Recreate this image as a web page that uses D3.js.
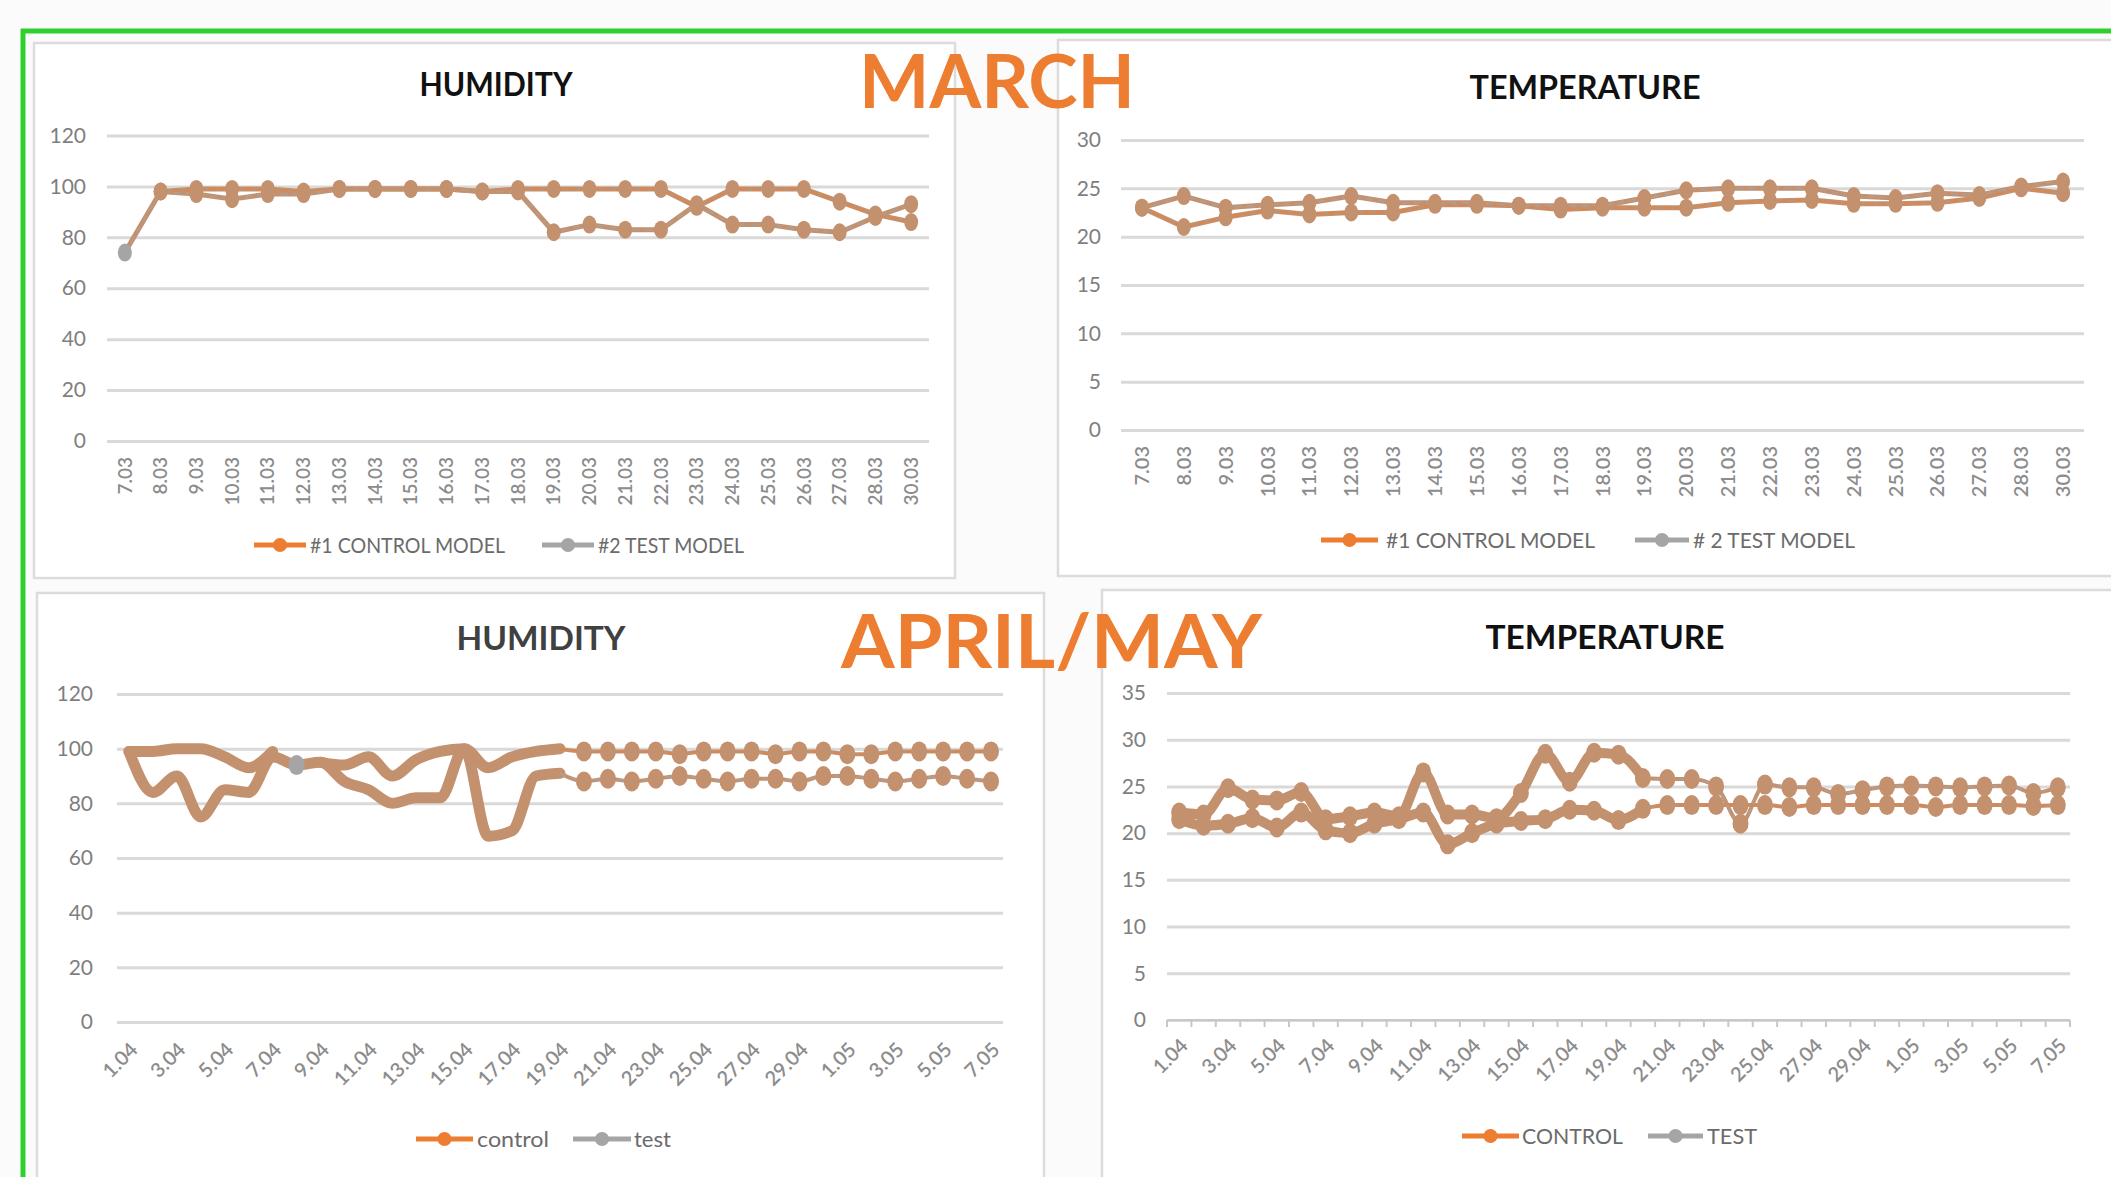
<!DOCTYPE html>
<html>
<head>
<meta charset="utf-8">
<script src="https://cdn.jsdelivr.net/npm/d3@7"></script>
<style>
  body { margin: 0; background: #fbfbfb; }
  svg { display: block; font-family: Lato, "Open Sans", sans-serif; }
</style>
</head>
<body>
<svg width="2111" height="1177"></svg>
<script>
// March data
var marchDates = ["7.03", "8.03", "9.03", "10.03", "11.03", "12.03", "13.03", "14.03", "15.03", "16.03", "17.03", "18.03",
  "19.03", "20.03", "21.03", "22.03", "23.03", "24.03", "25.03", "26.03", "27.03", "28.03", "30.03"];
var marchHumControl = [null, 98, 99, 99, 99, 98, 99, 99, 99, 99, 98, 99, 99, 99, 99, 99, 92, 99, 99, 99, 94, 89, 86];
var marchHumTest = [74, 98, 97, 95, 97, 97, 99, 99, 99, 99, 98, 98, 82, 85, 83, 83, 93, 85, 85, 83, 82, 88, 93];
var marchTempControl = [23, 21, 22, 22.7, 22.3, 22.5, 22.5, 23.3, 23.3, 23.2, 22.8, 23, 23, 23, 23.5, 23.7, 23.8, 23.4, 23.4, 23.5, 24, 25, 24.5];
var marchTempTest = [23, 24.2, 23, 23.3, 23.5, 24.2, 23.5, 23.5, 23.5, 23.2, 23.2, 23.2, 24, 24.8, 25, 25, 25, 24.2, 24, 24.5, 24.3, 25.2, 25.7];

// April / May data
var aprilDates = ["1.04", "2.04", "3.04", "4.04", "5.04", "6.04", "7.04", "8.04", "9.04", "10.04", "11.04", "12.04",
  "13.04", "14.04", "15.04", "16.04", "17.04", "18.04", "19.04", "20.04", "21.04", "22.04", "23.04", "24.04",
  "25.04", "26.04", "27.04", "28.04", "29.04", "30.04", "1.05", "2.05", "3.05", "4.05", "5.05", "6.05", "7.05"];
var aprilHumControl = [99, 99, 100, 100, 97, 93, 99, null, 95, 94, 97, 90, 96, 99, 100, 93, 97, 99, 100,
  99, 99, 99, 99, 98, 99, 99, 99, 98, 99, 99, 98, 98, 99, 99, 99, 99, 99];
var aprilHumTest = [99, 84, 90, 75, 85, 84, 97, 94, 95, 88, 85, 80, 82, 82, 100, 68, 70, 90, 91,
  88, 89, 88, 89, 90, 89, 88, 89, 89, 88, 90, 90, 89, 88, 89, 90, 89, 88];
var aprilTempControl = [21.5, 20.8, 21, 21.6, 20.6, 22.2, 20.3, 20, 21, 21.5, 22.2, 18.8, 20, 21, 21.3, 21.5, 22.5, 22.4, 21.4,
  22.6, 23, 23, 23, 23, 23, 22.8, 23, 23, 23, 23, 23, 22.8, 23, 23, 23, 22.9, 23];
var aprilTempTest = [22.2, 22, 24.8, 23.6, 23.5, 24.4, 21.5, 21.8, 22.2, 21.8, 26.5, 22, 22, 21.6, 24.3, 28.5, 25.5, 28.6, 28.4,
  25.9, 25.8, 25.8, 25, 21, 25.2, 24.9, 24.9, 24.2, 24.6, 25, 25.1, 25, 24.9, 25, 25.1, 24.3, 24.9];

var humTicks = [0, 20, 40, 60, 80, 100, 120];
var marchTempTicks = [0, 5, 10, 15, 20, 25, 30];
var aprilTempTicks = [0, 5, 10, 15, 20, 25, 30, 35];

var orange = "#ed7d31", grey = "#a5a5a5", tan = "#c4916f", gridColor = "#d9d9d9", labelColor = "#7f7f7f";

var svg = d3.select("svg");

// panels
var panels = [
  {x: 34, y: 43, w: 921, h: 535},
  {x: 1058, y: 40, w: 1070, h: 536},
  {x: 37, y: 593, w: 1007, h: 600},
  {x: 1102, y: 590, w: 1020, h: 600}
];
svg.selectAll("rect.panel").data(panels).join("rect")
    .attr("class", "panel")
    .attr("x", function(d) { return d.x; })
    .attr("y", function(d) { return d.y; })
    .attr("width", function(d) { return d.w; })
    .attr("height", function(d) { return d.h; })
    .attr("fill", "#fff")
    .attr("stroke", "#dcdcdc")
    .attr("stroke-width", 2.5);

// green frame
svg.append("line").attr("x1", 21).attr("x2", 2111).attr("y1", 31).attr("y2", 31)
    .attr("stroke", "#2fcf2f").attr("stroke-width", 5);
svg.append("line").attr("x1", 23).attr("x2", 23).attr("y1", 29).attr("y2", 1177)
    .attr("stroke", "#2fcf2f").attr("stroke-width", 5);

var charts = [
  {
    title: "HUMIDITY", titleX: 496, titleY: 96, titleW: 153, titleColor: "#111",
    dates: marchDates, control: marchHumControl, test: marchHumTest, ticks: humTicks,
    x0: 107, x1: 929, yTop: 135.5, yBottom: 441, yLabelX: 86,
    rotate: -90, labelY: 457, labelEvery: 1, labelSize: 19,
    lineWidth: 5, lineWidth2: 5, split: 99, markerFrom: 0, rx: 7, ry: 9, curve: d3.curveLinear, overlay: true,
    legend: {y: 545, items: [
      {name: "#1 CONTROL MODEL", color: orange, l0: 254, l1: 306, t0: 310, t1: 505},
      {name: "#2 TEST MODEL", color: grey, l0: 542, l1: 594, t0: 598, t1: 744}
    ]}
  },
  {
    title: "TEMPERATURE", titleX: 1585, titleY: 99, titleW: 231, titleColor: "#111",
    dates: marchDates, control: marchTempControl, test: marchTempTest, ticks: marchTempTicks,
    x0: 1121, x1: 2084, yTop: 140, yBottom: 430, yLabelX: 1101,
    rotate: -90, labelY: 446, labelEvery: 1, labelSize: 20,
    lineWidth: 5, lineWidth2: 5, split: 99, markerFrom: 0, rx: 7, ry: 9, curve: d3.curveLinear, overlay: true,
    legend: {y: 540, items: [
      {name: "#1 CONTROL MODEL", color: orange, l0: 1321, l1: 1378, t0: 1386, t1: 1595},
      {name: "# 2 TEST MODEL", color: grey, l0: 1635, l1: 1689, t0: 1693, t1: 1855}
    ]}
  },
  {
    title: "HUMIDITY", titleX: 541, titleY: 650, titleW: 169, titleColor: "#404040",
    dates: aprilDates, control: aprilHumControl, test: aprilHumTest, ticks: humTicks,
    x0: 117, x1: 1003, yTop: 694, yBottom: 1022, yLabelX: 93,
    rotate: -45, labelY: 1046, labelEvery: 2, labelSize: 20,
    lineWidth: 11, lineWidth2: 4, split: 18, markerFrom: 19, rx: 8, ry: 10, curve: d3.curveMonotoneX, overlay: false,
    legend: {y: 1139, items: [
      {name: "control", color: orange, l0: 416, l1: 473, t0: 477, t1: 549},
      {name: "test", color: grey, l0: 573, l1: 631, t0: 634, t1: 671}
    ]}
  },
  {
    title: "TEMPERATURE", titleX: 1605, titleY: 649, titleW: 239, titleColor: "#111",
    dates: aprilDates, control: aprilTempControl, test: aprilTempTest, ticks: aprilTempTicks,
    x0: 1167, x1: 2070, yTop: 693, yBottom: 1020, yLabelX: 1146, tickMarks: true,
    rotate: -45, labelY: 1042, labelEvery: 2, labelSize: 20,
    lineWidth: 10, lineWidth2: 4, split: 19, markerFrom: 0, rx: 8, ry: 10, curve: d3.curveMonotoneX, overlay: false,
    legend: {y: 1136, items: [
      {name: "CONTROL", color: orange, l0: 1462, l1: 1519, t0: 1522, t1: 1623},
      {name: "TEST", color: grey, l0: 1648, l1: 1703, t0: 1707, t1: 1757}
    ]}
  }
];

charts.forEach(drawChart);

function drawChart(c) {
  var g = svg.append("g");
  var x = d3.scaleBand().domain(c.dates).range([c.x0, c.x1]);
  var y = d3.scaleLinear().domain([0, d3.max(c.ticks)]).range([c.yBottom, c.yTop]);
  var cx = function(i) { return x(c.dates[i]) + x.bandwidth() / 2; };

  g.append("text")
      .attr("x", c.titleX).attr("y", c.titleY)
      .attr("text-anchor", "middle")
      .attr("font-size", 32).attr("font-weight", 700)
      .attr("fill", c.titleColor)
      .attr("textLength", c.titleW).attr("lengthAdjust", "spacingAndGlyphs")
      .text(c.title);

  // y axis grid + labels
  var yAxis = d3.axisLeft(y).tickValues(c.ticks).tickSize(-(c.x1 - c.x0)).tickPadding(c.x0 - c.yLabelX);
  var ya = g.append("g").attr("transform", "translate(" + c.x0 + ",0)").call(yAxis);
  ya.select(".domain").remove();
  ya.selectAll(".tick line").attr("stroke", gridColor).attr("stroke-width", 3);
  ya.selectAll(".tick text").attr("fill", labelColor).attr("font-size", 21).attr("font-family", "Lato, sans-serif");

  if (c.tickMarks) {
    g.append("line").attr("x1", c.x0).attr("x2", c.x1).attr("y1", c.yBottom).attr("y2", c.yBottom)
        .attr("stroke", "#c8c8c8").attr("stroke-width", 2);
    g.selectAll("line.tm").data(d3.range(c.dates.length + 1)).join("line")
        .attr("class", "tm")
        .attr("x1", function(i) { return c.x0 + i * x.step(); })
        .attr("x2", function(i) { return c.x0 + i * x.step(); })
        .attr("y1", c.yBottom).attr("y2", c.yBottom + 7)
        .attr("stroke", "#c8c8c8").attr("stroke-width", 2);
  }

  // x labels
  var labels = c.dates.filter(function(d, i) { return i % c.labelEvery === 0; });
  g.selectAll("text.xl").data(labels).join("text")
      .attr("class", "xl")
      .attr("transform", function(d) {
        var px = x(d) + x.bandwidth() / 2 + (c.rotate === -45 ? 5 : 0);
        return "translate(" + px + "," + c.labelY + ") rotate(" + c.rotate + ")";
      })
      .attr("dy", "0.35em")
      .attr("text-anchor", "end")
      .attr("font-size", c.labelSize)
      .attr("font-weight", 600)
      .attr("fill", "#8c8c8c")
      .text(function(d) { return d; });

  // series
  var series = [
    {values: c.control, other: c.test, color: orange},
    {values: c.test, other: c.control, color: grey}
  ];
  var line = d3.line()
      .defined(function(d) { return d != null; })
      .x(function(d, i) { return cx(i); })
      .y(function(d) { return y(d); })
      .curve(c.curve);
  // first part (thick) and the rest (thin)
  var head = function(v) { return v.map(function(d, i) { return i <= c.split ? d : null; }); };
  var tail = function(v) { return v.map(function(d, i) { return i >= c.split ? d : null; }); };

  series.forEach(function(s) {
    g.append("path")
        .attr("d", line(head(s.values)))
        .attr("fill", "none")
        .attr("stroke", tan)
        .attr("stroke-width", c.lineWidth)
        .attr("stroke-linejoin", "round")
        .attr("stroke-linecap", "round");
    g.append("path")
        .attr("d", line(tail(s.values)))
        .attr("fill", "none")
        .attr("stroke", tan)
        .attr("stroke-width", c.lineWidth2)
        .attr("stroke-linejoin", "round");
  });
  series.forEach(function(s) {
    g.append("path")
        .attr("d", line(c.overlay ? s.values : tail(s.values)))
        .attr("fill", "none")
        .attr("stroke", s.color)
        .attr("stroke-opacity", 0.5)
        .attr("stroke-width", 2.5)
        .attr("stroke-dasharray", "7,5");
  });
  series.forEach(function(s) {
    var pts = s.values.map(function(v, i) { return {v: v, i: i, alone: s.other[i] == null}; })
        .filter(function(d) { return d.v != null && (d.i >= c.markerFrom || d.alone); });
    g.selectAll(null).data(pts).join("ellipse")
        .attr("cx", function(d) { return cx(d.i); })
        .attr("cy", function(d) { return y(d.v); })
        .attr("rx", c.rx).attr("ry", c.ry)
        .attr("fill", function(d) { return d.alone ? s.color : tan; });
  });

  // legend
  c.legend.items.forEach(function(it) {
    g.append("line")
        .attr("x1", it.l0).attr("x2", it.l1).attr("y1", c.legend.y).attr("y2", c.legend.y)
        .attr("stroke", it.color).attr("stroke-width", 5);
    g.append("circle")
        .attr("cx", (it.l0 + it.l1) / 2).attr("cy", c.legend.y).attr("r", 7)
        .attr("fill", it.color);
    g.append("text")
        .attr("x", it.t0).attr("y", c.legend.y).attr("dy", "0.36em")
        .attr("font-size", 21)
        .attr("fill", "#6b6b6b")
        .attr("textLength", it.t1 - it.t0).attr("lengthAdjust", "spacingAndGlyphs")
        .text(it.name);
  });
}

// big month titles
svg.append("text")
    .attr("x", 859).attr("y", 108)
    .attr("font-size", 74).attr("font-weight", 700)
    .attr("fill", orange)
    .attr("textLength", 276).attr("lengthAdjust", "spacingAndGlyphs")
    .text("MARCH");
svg.append("text")
    .attr("x", 841).attr("y", 668)
    .attr("font-size", 74).attr("font-weight", 700)
    .attr("fill", orange)
    .attr("textLength", 421).attr("lengthAdjust", "spacingAndGlyphs")
    .text("APRIL/MAY");
</script>
</body>
</html>
